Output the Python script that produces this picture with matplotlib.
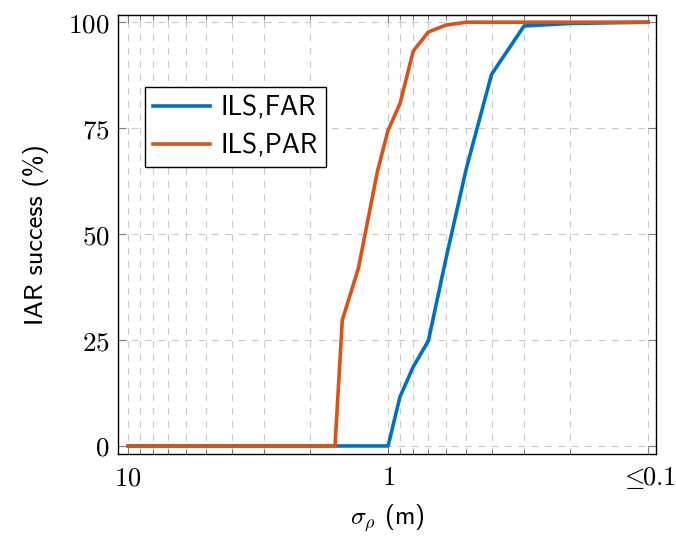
import numpy as np
import matplotlib
matplotlib.use("Agg")
import matplotlib.pyplot as plt
from matplotlib.ticker import FixedLocator, NullFormatter

plt.rcParams['mathtext.fontset'] = 'cm'

# sigma_rho (m) and success rate (%)
far_sigma = [10, 9, 8, 7, 6, 5, 4, 3, 2, 1.5, 1.0, 0.9, 0.8, 0.7, 0.6, 0.5, 0.4, 0.3, 0.2, 0.1]
far_success = [0, 0, 0, 0, 0, 0, 0, 0, 0, 0, 0, 11.6, 18.7, 24.8, 44.0, 65.5, 87.7, 99.1, 99.7, 100]

par_sigma = [10, 9, 8, 7, 6, 5, 4, 3, 2, 1.6, 1.5, 1.3, 1.1, 1.0, 0.9, 0.8, 0.7, 0.6, 0.5, 0.4, 0.3, 0.2, 0.1]
par_success = [0, 0, 0, 0, 0, 0, 0, 0, 0, 0, 29.7, 42.0, 64.7, 74.5, 80.8, 93.2, 97.7, 99.3, 100, 100, 100, 100, 100]

x_ticks = [10, 1, 0.1]
x_labels = [r'$10$', r'$1$', r'$\leq\!\!0.1$']
y_ticks = [0, 25, 50, 75, 100]

blue = '#0072BD'
orange = '#D95319'
sans = 'cmss10'  # computer modern sans, ships with matplotlib

fig = plt.figure(figsize=(6.76, 5.39), dpi=100)
ax = fig.add_axes([0.1746, 0.1577, 0.7959, 0.8145])

ax.plot(far_sigma, far_success, color=blue, lw=2.6, label='ILS,FAR', zorder=3)
ax.plot(par_sigma, par_success, color=orange, lw=2.6, label='ILS,PAR', zorder=4)

ax.set_xscale('log')
ax.set_xlim(10.93, 0.0932)
ax.set_ylim(-1.9, 101.7)

minor = [m * d for d in (1, 0.1) for m in range(2, 10)]
ax.xaxis.set_major_locator(FixedLocator(x_ticks))
ax.xaxis.set_minor_locator(FixedLocator(minor))
ax.xaxis.set_minor_formatter(NullFormatter())
ax.set_xticks(x_ticks)
ax.set_xticklabels(x_labels)
ax.set_yticks(y_ticks)
ax.set_yticklabels([r'$%d$' % v for v in y_ticks])

ax.tick_params(which='both', direction='in', top=True, right=True,
               color='#808080', labelsize=19.5)
ax.tick_params(axis='x', labelsize=19)
ax.tick_params(which='major', length=6, width=0.8)
ax.tick_params(which='minor', length=3.5, width=0.8)
ax.tick_params(axis='x', pad=8)
ax.tick_params(axis='y', pad=6)

ax.grid(True, which='both', axis='x', ls=(0, (6, 6)), color='#c8c8c8', lw=0.8)
ax.grid(True, which='major', axis='y', ls=(0, (6, 6)), color='#c8c8c8', lw=0.8)
ax.set_axisbelow(True)

for s in ax.spines.values():
    s.set_linewidth(1.0)

ax.set_xlabel(r'$\sigma_\rho$ (m)', fontsize=18.5, family=sans, labelpad=8)
ax.set_ylabel('IAR success (%)', fontsize=19, family=sans, labelpad=14)

leg = ax.legend(loc='upper left', bbox_to_anchor=(0.05, 0.836),
                prop={'family': sans, 'size': 19.5},
                fancybox=False, framealpha=1, edgecolor='black',
                handlelength=2.1, borderpad=0.3, labelspacing=0.5,
                handletextpad=0.4, borderaxespad=0)
leg.get_frame().set_linewidth(1.0)

fig.savefig('out.png', dpi=100)
